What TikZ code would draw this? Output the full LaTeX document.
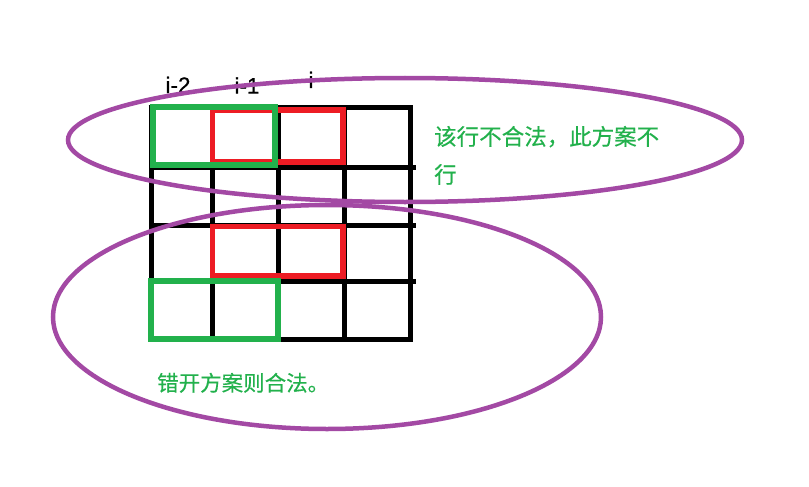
\documentclass[tikz,border=0pt]{standalone}
\usepackage{fontspec}
\setmainfont{Noto Sans CJK SC}
\newfontfamily\lblfont[FakeBold=0.6]{Liberation Sans}
\newfontfamily\notefont[FakeBold=0.4]{Noto Sans CJK SC}
\definecolor{pgreen}{HTML}{22B14C}
\definecolor{pred}{HTML}{ED1C24}
\definecolor{ppurple}{HTML}{A349A4}
\begin{document}
\begin{tikzpicture}[x=1pt,y=-1pt,
  gridline/.style={line width=5pt,black},
  gbox/.style={line width=5.5pt,pgreen},
  rbox/.style={line width=5.5pt,pred},
  oval/.style={line width=4.5pt,ppurple},
  idx/.style={font=\lblfont\fontsize{22.5}{27}\selectfont,inner sep=0pt,anchor=base},
  note/.style={text=pgreen,inner sep=0pt,align=left,anchor=base west}]
\useasboundingbox[fill=white] (0,0) rectangle (809,487);
% grid
\foreach \x in {151,212,278,344,410} \draw[gridline] (\x,107) -- (\x,339);
\draw[gridline] (148.5,107) -- (412.5,107);
\foreach \y in {167,225,281} \draw[gridline] (151,\y) -- (416,\y);
\draw[gridline] (148.5,339) -- (412.5,339);
% boxes
\draw[rbox] (212.5,110) rectangle (343,162);
\draw[gbox] (153,107) rectangle (275,165);
\draw[rbox] (212.5,226.5) rectangle (343,276);
\draw[gbox] (151,281) rectangle (278,339);
% labels
\node[idx] (l2) at (178,93) {i-2};
\node[idx] (l1) at (247,93.6) {i-1};
\node[idx] (l0) at (311,88) {i};
\node[note,font=\notefont\fontsize{22.5}{38}\selectfont] (t1) at (434,183) {该行不合法，此方案不\\行};
\node[note,font=\notefont\fontsize{21.5}{26}\selectfont] (t2) at (157,391) {错开方案则合法。};
% ellipses
\draw[oval] (405,140) ellipse [x radius=337, y radius=62];
\draw[oval] (327,317) ellipse [x radius=274, y radius=112];
\end{tikzpicture}
\end{document}
